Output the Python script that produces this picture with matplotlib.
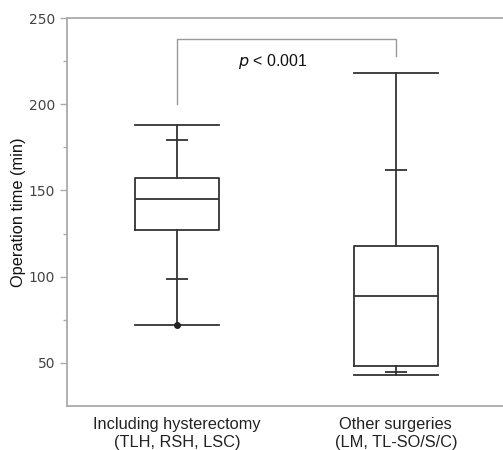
import matplotlib
matplotlib.use("Agg")
import matplotlib.pyplot as plt

# group labels
groups = ["Including hysterectomy\n(TLH, RSH, LSC)", "Other surgeries\n(LM, TL-SO/S/C)"]
positions = [1, 2]

# box statistics (min, q1, median, q3, max)
mins = [72, 43]
q1s = [127, 48]
medians = [145, 89]
q3s = [157, 118]
maxs = [188, 218]
# inner quantile marks (low / high)
low_marks = [98.5, 44.5]
high_marks = [179, 162]

yticks = [50, 100, 150, 200, 250]
p_text = r"$p$ < 0.001"

line_col = "#333333"
axis_col = "#aaaaaa"

fig = plt.figure(figsize=(5.03, 4.5), dpi=100)
ax = fig.add_axes([67 / 503, 1 - 406 / 450, 436 / 503, 388 / 450])

stats = []
for i in range(2):
    stats.append(dict(whislo=mins[i], q1=q1s[i], med=medians[i], q3=q3s[i],
                      whishi=maxs[i], fliers=[]))

bw = 0.385
ax.bxp(stats, positions=positions, widths=bw, showfliers=False,
       boxprops=dict(color=line_col, lw=1.3),
       medianprops=dict(color=line_col, lw=1.3),
       whiskerprops=dict(color=line_col, lw=1.3),
       capprops=dict(color=line_col, lw=1.3),
       capwidths=bw)

for i, x in enumerate(positions):
    ax.hlines([low_marks[i], high_marks[i]], x - 0.05, x + 0.05, color=line_col, lw=1.3)

# dot at the minimum of the first group
ax.plot(positions[0], mins[0], "o", color="#222222", ms=4)

# significance bracket
ax.plot([positions[0], positions[0], positions[1], positions[1]],
        [200, 238, 238, 228], color="#999999", lw=1.0)
ax.text(1.28, 224.5, p_text, fontsize=11.5, family="Liberation Sans",
        va="center", ha="left", color="#111111")

ax.set_xlim(0.498, 2.49)
ax.set_ylim(25, 250)
ax.set_yticks(yticks)
ax.set_yticks([75, 125, 175, 225], minor=True)
ax.set_xticks(positions)
ax.set_xticklabels(groups, family="Liberation Sans", fontsize=11.8, color="#222222")

ax.tick_params(axis="y", colors=axis_col, labelcolor="#444444", labelsize=10, length=5, width=1)
ax.tick_params(axis="y", which="minor", colors=axis_col, length=3, width=1)
ax.tick_params(axis="x", length=0, pad=8)

ax.set_ylabel("Operation time (min)", family="Liberation Sans", fontsize=11.8,
              color="#111111")
ax.yaxis.set_label_coords(-0.094, 0.5)

for s in ["top", "bottom", "left"]:
    ax.spines[s].set_color(axis_col)
    ax.spines[s].set_linewidth(1.3)
ax.spines["right"].set_visible(False)

fig.savefig("out.png", dpi=100)
